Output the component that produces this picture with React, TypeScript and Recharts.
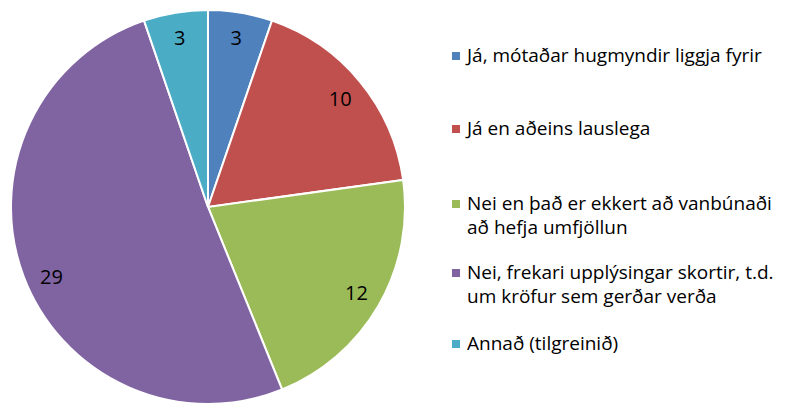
import React from 'react';
import { PieChart, Pie, Cell, Legend } from 'recharts';

const categories = [
  'Já, mótaðar hugmyndir liggja fyrir',
  'Já en aðeins lauslega',
  'Nei en það er ekkert að vanbúnaði að hefja umfjöllun',
  'Nei, frekari upplýsingar skortir, t.d. um kröfur sem gerðar verða',
  'Annað (tilgreinið)',
];
const legendLines = [
  ['Já, mótaðar hugmyndir liggja fyrir'],
  ['Já en aðeins lauslega'],
  ['Nei en það er ekkert að vanbúnaði', 'að hefja umfjöllun'],
  ['Nei, frekari upplýsingar skortir, t.d.', 'um kröfur sem gerðar verða'],
  ['Annað (tilgreinið)'],
];
const values = [3, 10, 12, 29, 3];
const colors = ['#4F81BD', '#C0504D', '#9BBB59', '#8064A2', '#4BACC6'];

const data = categories.map((name, i) => ({ name, value: values[i] }));

const FONT = '"Open Sans", sans-serif';
const RADIAN = Math.PI / 180;

const renderLabel = (props: any) => {
  const { cx, cy, midAngle, outerRadius, value, index } = props;
  const r = outerRadius * 0.87;
  const ang = midAngle + (index === 3 ? 3.5 : 0);
  const x = cx + r * Math.cos(-ang * RADIAN);
  const y = cy + r * Math.sin(-ang * RADIAN);
  return (
    <text x={x} y={y} fill="#000" textAnchor="middle" dominantBaseline="central" fontFamily={FONT} fontSize={20}>
      {value}
    </text>
  );
};

const itemTops = [43, 116, 191, 260, 331];

const renderLegend = () => (
  <div style={{ position: 'relative', width: 340, height: 403, fontFamily: FONT, fontSize: 19, color: '#000' }}>
    {legendLines.map((lines, i) => (
      <div key={i} style={{ position: 'absolute', left: 0, top: itemTops[i] }}>
        <div style={{ position: 'absolute', left: 0, top: 9, width: 8, height: 8, background: colors[i] }} />
        {lines.map((l, j) => (
          <div key={j} style={{ position: 'absolute', left: 15, top: j * 24, whiteSpace: 'nowrap', lineHeight: '24px' }}>
            {l}
          </div>
        ))}
      </div>
    ))}
  </div>
);

export default function App() {
  return (
    <div style={{ position: 'absolute', left: 0, top: 0, width: 787, height: 403, background: '#fff' }}>
      <PieChart width={787} height={403} margin={{ top: 0, right: 0, bottom: 0, left: 0 }}>
        <Pie
          data={data}
          dataKey="value"
          nameKey="name"
          cx={208}
          cy={207}
          outerRadius={197}
          startAngle={90}
          endAngle={-270}
          stroke="#fff"
          strokeWidth={2}
          label={renderLabel}
          labelLine={false}
          isAnimationActive={false}
        >
          {data.map((d, i) => (
            <Cell key={d.name} fill={colors[i]} />
          ))}
        </Pie>
        <Legend
          content={renderLegend}
          layout="vertical"
          wrapperStyle={{ position: 'absolute', left: 452, top: 0, width: 335, height: 403 }}
        />
      </PieChart>
    </div>
  );
}
